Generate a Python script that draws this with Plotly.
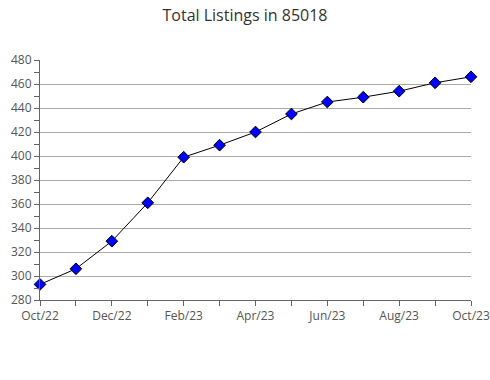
import plotly.graph_objects as go

months = ["Oct/22", "Nov/22", "Dec/22", "Jan/23", "Feb/23", "Mar/23", "Apr/23",
          "May/23", "Jun/23", "Jul/23", "Aug/23", "Sep/23", "Oct/23"]
listings = [293, 306, 329, 361, 399, 409, 420, 435, 445, 449, 454, 461, 466]
tick_labels = [m if i % 2 == 0 else "" for i, m in enumerate(months)]
y_ticks = list(range(280, 481, 20))

x_idx = list(range(len(months)))

fig = go.Figure()
fig.add_trace(go.Scatter(
    x=x_idx, y=listings, mode="lines+markers",
    line=dict(color="black", width=1),
    marker=dict(symbol="diamond", size=9, color="#0000ff",
                line=dict(color="black", width=1)),
    cliponaxis=False, hoverinfo="skip",
))

fig.update_layout(
    width=490, height=380,
    margin=dict(l=40, r=19, t=60, b=80, autoexpand=False),
    paper_bgcolor="white", plot_bgcolor="white",
    showlegend=False,
    font=dict(family="Open Sans, DejaVu Sans, sans-serif", size=12, color="#555"),
    title=dict(text="Total Listings in 85018", x=0.5, xanchor="center",
               y=0.96, yanchor="middle",
               font=dict(size=16, color="#333")),
)
fig.update_xaxes(
    range=[0, 12], tickmode="array", tickvals=x_idx, ticktext=tick_labels,
    ticks="outside", ticklen=5, tickcolor="#666", showgrid=False,
    showline=True, linecolor="#666", linewidth=1, zeroline=False,
    automargin=False,
)
fig.update_yaxes(
    range=[280, 480], tickmode="array", tickvals=y_ticks,
    ticks="outside", ticklen=5, tickcolor="#666",
    showgrid=True, gridcolor="#aaaaaa", gridwidth=1,
    showline=True, linecolor="#666", linewidth=1, zeroline=False,
    automargin=False,
    minor=dict(dtick=10, tick0=280, ticks="outside", ticklen=5, tickcolor="#666", showgrid=False),
)

fig.write_html("out.html")
